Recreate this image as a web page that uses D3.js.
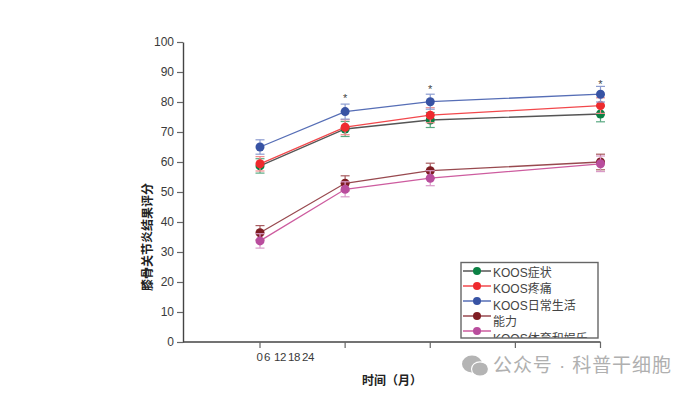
<!DOCTYPE html>
<html>
<head>
<meta charset="utf-8">
<script src="https://cdn.jsdelivr.net/npm/d3@7"></script>
<style>
body { margin: 0; background: #fff; }
text { font-family: "Liberation Sans", "Noto Sans CJK SC", sans-serif; }
</style>
</head>
<body>
<script>
// values
const months = [0, 6, 12, 24];
const xTicks = [0, 6, 12, 18, 24];
const yTicks = [0, 10, 20, 30, 40, 50, 60, 70, 80, 90, 100];

const names = ["KOOS症状", "KOOS疼痛", "KOOS日常生活", "能力", "KOOS体育和娱乐"];
const symptoms = [58.7, 71, 74, 76];
const pain = [59.4, 71.6, 75.6, 78.8];
const daily = [65, 76.8, 80.1, 82.6];
const ability = [36.4, 52.9, 57.1, 60];
const sport = [33.7, 50.9, 54.6, 59.4];
const errs = [2.4, 2.5, 2.5, 2.6];
const starMonths = [6, 12, 24];
const starValues = [82.3, 85.2, 87];

const allSeries = [symptoms, pain, daily, ability, sport];
const dotColors = ["#0b8144", "#ee2a2e", "#3853a4", "#7f1d23", "#b94d9d"];
const lineColors = ["#555555", "#f2484c", "#566eb6", "#98494f", "#cd5c9f"];
const errColors = ["#5aa982", "#f28b8d", "#8c9cd0", "#a85c60", "#d99ac8"];

const w = 693;
const h = 393;

let svg = d3.select("body")
    .append("svg")
    .attr("width", w)
    .attr("height", h)
    .style("display", "block");

const x = d3.scaleLinear().domain([0, 24]).range([260, 600.5]);
const y = d3.scaleLinear().domain([0, 100]).range([342, 42]);
// the tick labels sit squashed together under the first tick
const xLabel = d3.scaleLinear().domain(xTicks).range([259.5, 267, 280, 294, 308]);

// y axis
let yAxis = svg.append("g")
    .attr("transform", "translate(183,0)")
    .call(d3.axisLeft(y).tickValues(yTicks).tickSize(6).tickPadding(3).tickSizeOuter(0));
yAxis.select(".domain").attr("stroke", "#444").attr("stroke-width", 1.4);
yAxis.selectAll(".tick line").attr("stroke", "#666").attr("stroke-width", 1.2);
yAxis.selectAll(".tick text").attr("font-size", 12).attr("fill", "#3a3a3a")
    .style("font-family", '"Liberation Sans"');

// x axis
svg.append("line")
    .attr("x1", 183).attr("x2", x(24))
    .attr("y1", y(0)).attr("y2", y(0))
    .attr("stroke", "#444").attr("stroke-width", 1.4);
svg.append("g").selectAll("line")
    .data(xTicks)
    .join("line")
    .attr("x1", d => x(d)).attr("x2", d => x(d))
    .attr("y1", y(0)).attr("y2", y(0) + 6)
    .attr("stroke", "#666").attr("stroke-width", 1.2);
svg.append("g").selectAll("text")
    .data(xTicks)
    .join("text")
    .attr("x", d => xLabel(d))
    .attr("y", 361)
    .attr("text-anchor", "middle")
    .attr("font-size", 11.5)
    .attr("letter-spacing", -0.4)
    .attr("fill", "#3a3a3a")
    .text(d => d);

// axis titles
svg.append("text")
    .attr("x", 392).attr("y", 385)
    .attr("text-anchor", "middle")
    .attr("font-size", 12).attr("font-weight", "bold").attr("fill", "#222")
    .text("时间（月）");
svg.append("text")
    .attr("transform", "translate(152,237) rotate(-90)")
    .attr("text-anchor", "middle")
    .attr("font-size", 12).attr("font-weight", "bold").attr("fill", "#222")
    .text("膝骨关节炎结果评分");

// series
const line = d3.line()
    .x((d, i) => x(months[i]))
    .y(d => y(d));

allSeries.forEach(function (values, s) {
    let g = svg.append("g");
    values.forEach(function (v, i) {
        let e = g.append("g").attr("stroke", errColors[s]).attr("stroke-width", 1.2);
        e.append("line")
            .attr("x1", x(months[i])).attr("x2", x(months[i]))
            .attr("y1", y(v - errs[i])).attr("y2", y(v + errs[i]));
        [v - errs[i], v + errs[i]].forEach(function (c) {
            e.append("line")
                .attr("x1", x(months[i]) - 4.5).attr("x2", x(months[i]) + 4.5)
                .attr("y1", y(c)).attr("y2", y(c));
        });
    });
    g.append("path")
        .attr("d", line(values))
        .attr("fill", "none")
        .attr("stroke", lineColors[s])
        .attr("stroke-width", 1.3);
    g.selectAll("circle")
        .data(values)
        .join("circle")
        .attr("cx", (d, i) => x(months[i]))
        .attr("cy", d => y(d))
        .attr("r", 4.5)
        .attr("fill", dotColors[s]);
});

// significance stars
svg.append("g").selectAll("text")
    .data(starMonths)
    .join("text")
    .attr("x", d => x(d))
    .attr("y", (d, i) => y(starValues[i]) + 7)
    .attr("text-anchor", "middle")
    .attr("font-size", 11)
    .attr("fill", "#444")
    .text("*");

// legend, the last row is cut off by the box
const legendRow = d3.scalePoint().domain(names).range([271, 331]);
const legendText = d3.scalePoint().domain(names).range([276.5, 343]);
svg.append("clipPath").attr("id", "legendClip")
    .append("rect")
    .attr("x", 461).attr("y", 262.5).attr("width", 137).attr("height", 75.5);
let legend = svg.append("g").attr("clip-path", "url(#legendClip)");
legend.append("rect")
    .attr("x", 461).attr("y", 262.5).attr("width", 137).attr("height", 75.5)
    .attr("fill", "#fff");
names.forEach(function (name, s) {
    const ry = legendRow(name);
    legend.append("line")
        .attr("x1", 463).attr("x2", 491)
        .attr("y1", ry).attr("y2", ry)
        .attr("stroke", lineColors[s]).attr("stroke-width", 1.3);
    legend.append("circle")
        .attr("cx", 477).attr("cy", ry).attr("r", 4)
        .attr("fill", dotColors[s]);
    legend.append("text")
        .attr("x", 493).attr("y", legendText(name))
        .attr("font-size", 12).attr("fill", "#444")
        .text(name);
});
svg.append("rect")
    .attr("x", 461).attr("y", 262.5).attr("width", 137).attr("height", 75.5)
    .attr("fill", "none").attr("stroke", "#666").attr("stroke-width", 1.4);

// watermark
let mark = svg.append("g").attr("fill", "#b4b4b4");
mark.append("ellipse").attr("cx", 472).attr("cy", 364).attr("rx", 10).attr("ry", 8.5);
mark.append("ellipse").attr("cx", 480).attr("cy", 369).attr("rx", 8.5).attr("ry", 7.2)
    .attr("stroke", "#fff").attr("stroke-width", 1.2);
svg.append("text")
    .attr("x", 493).attr("y", 371.5)
    .attr("font-size", 19)
    .attr("fill", "#b0b0b0")
    .attr("letter-spacing", 0.9)
    .text("公众号 · 科普干细胞");
</script>
</body>
</html>
